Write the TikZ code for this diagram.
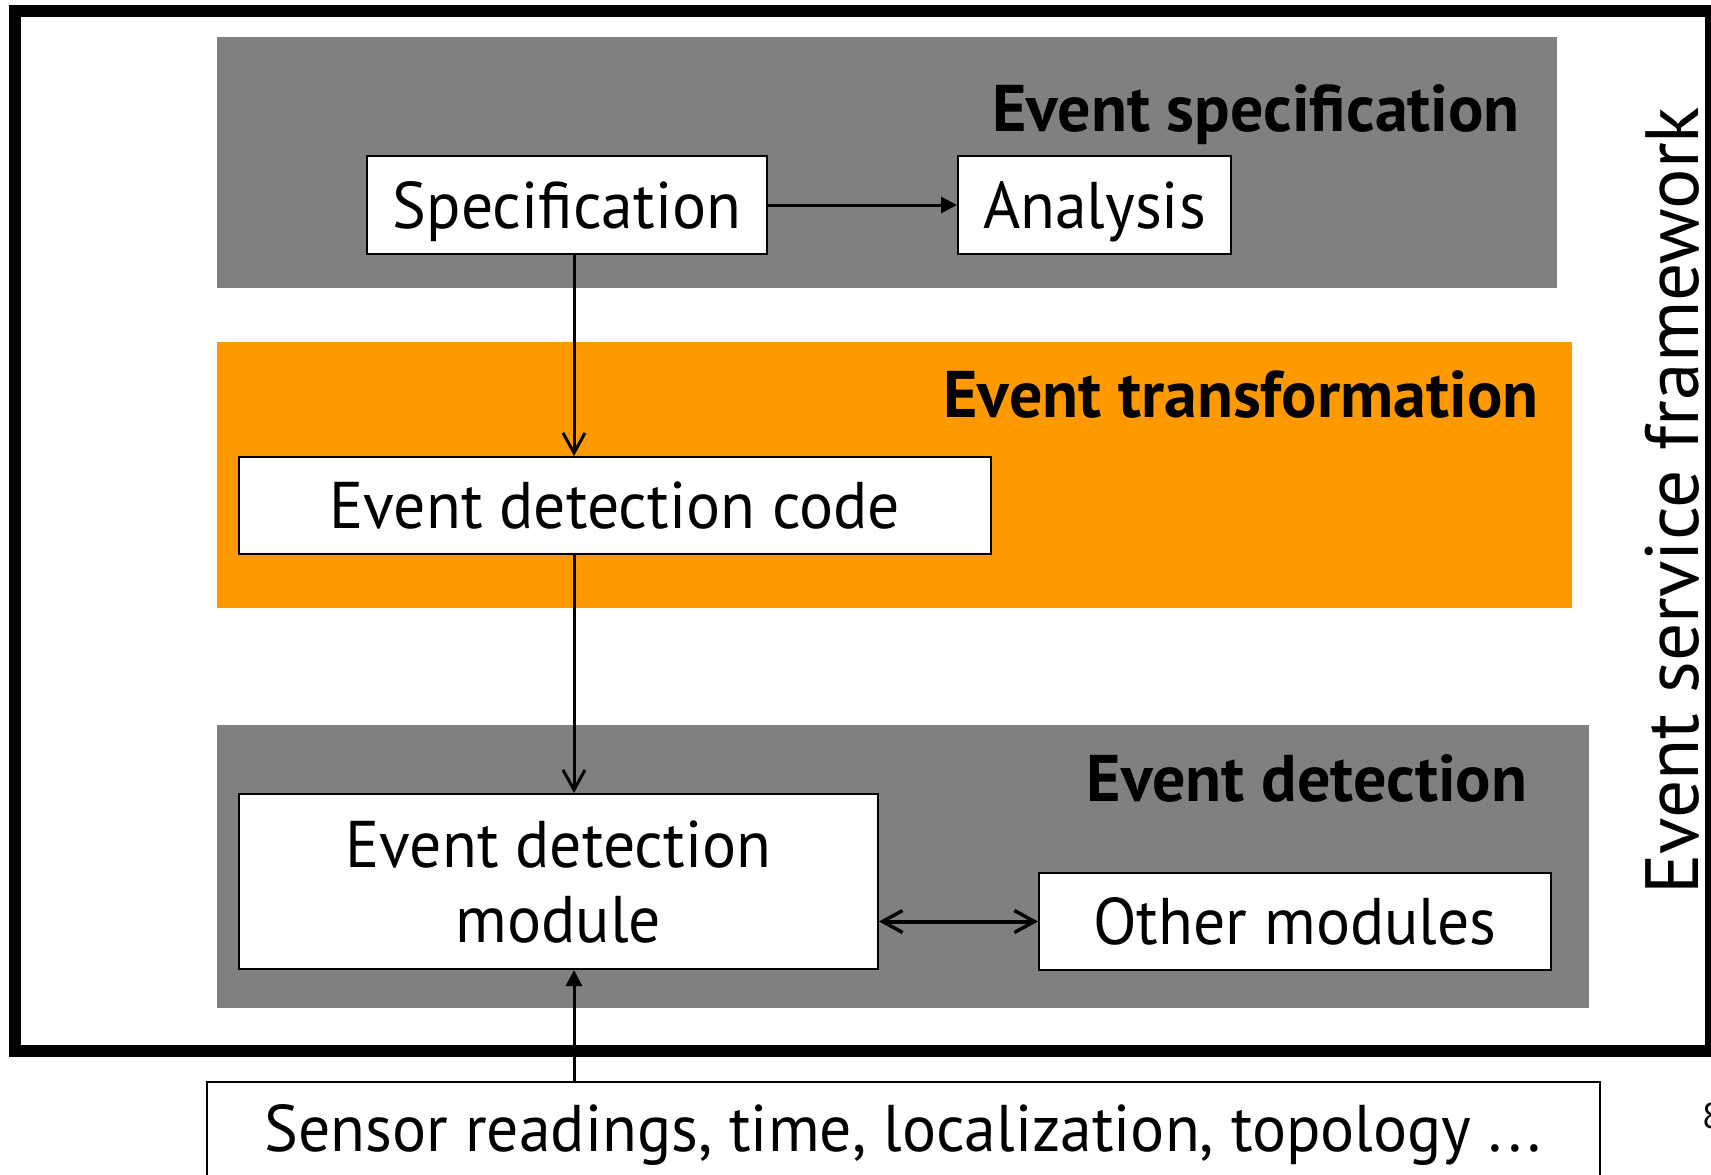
\documentclass[tikz,border=0pt]{standalone}
\usepackage{fontspec}
\setmainfont{PT Sans}
\newfontfamily\boxfont{PT Sans}[FakeStretch=0.965]
\usetikzlibrary{arrows.meta}
\definecolor{bandgrey}{RGB}{128,128,128}
\definecolor{bandorange}{RGB}{255,153,0}
\begin{document}
\begin{tikzpicture}[x=1pt,y=-1pt,
  box/.style={draw=black,line width=2pt,fill=white,inner sep=0pt,text height=46pt,text depth=0pt,font=\boxfont\fontsize{66}{75}\selectfont},
  heading/.style={inner sep=0pt,anchor=base,font=\fontsize{66}{75}\selectfont\bfseries},
  flow/.style={line width=3pt,-{Straight Barb[length=20pt,width=22pt,line width=3pt]}},
  both/.style={line width=4pt,{Straight Barb[length=20pt,width=22pt,line width=3.5pt]}-{Straight Barb[length=20pt,width=22pt,line width=3.5pt]}},
  solid/.style={line width=3pt,-{Triangle[length=16pt,width=16pt]}}
]
\useasboundingbox (0,0) rectangle (1711,1175);
\fill[white] (0,0) rectangle (1711,1175);
% bands
\fill[bandgrey] (217,37) rectangle (1557,288);
\fill[bandorange] (217,342) rectangle (1572,608);
\fill[bandgrey] (217,725) rectangle (1589,1008);
% frame
\draw[line width=12pt] (15,11) rectangle (1711,1051);
% headings
\node[heading] (h1) at (1256,131) {Event specification};
\node[heading] (h2) at (1241,417) {Event transformation};
\node[heading] (h3) at (1307,801) {Event detection};
% boxes
\node[box,minimum width=400pt,minimum height=98pt] (spec) at (567,205) {Specification};
\node[box,minimum width=273pt,minimum height=98pt] (ana) at (1094.5,205) {Analysis};
\node[box,minimum width=752pt,minimum height=97pt] (code) at (615,505.5) {Event detection code};
\node[box,minimum width=639pt,minimum height=175pt,align=center,text height=121pt,text depth=0pt] (mod) at (558.5,881.5) {Event detection\\module};
\node[box,minimum width=512pt,minimum height=97pt] (other) at (1295,921.5) {Other modules};
\node[box,minimum width=1393pt,text height=69pt,text depth=40pt,anchor=base] (sensor) at (903,1151) {Sensor readings, time, localization, topology .\kern6pt.\kern6pt.};
% side title and page number
\node[rotate=90,anchor=base west,inner sep=0pt,font=\fontsize{75.5}{80}\selectfont] (frametitle) at (1698,895) {Event service framework};
\node[anchor=base west,inner sep=0pt,font=\fontsize{36}{40}\selectfont] (pagenum) at (1702,1128) {8};
% connectors
\coordinate (trunk) at (574,0);
\draw[solid] (spec.east) -- (ana.west);
\draw[flow] (spec.south -| trunk) -- (code.north -| trunk);
\draw[flow] (code.south -| trunk) -- (mod.north -| trunk);
\draw[both] (other.west -| mod.east) -- (other.west);
\draw[solid] (sensor.north -| trunk) -- (mod.south -| trunk);
\end{tikzpicture}
\end{document}
